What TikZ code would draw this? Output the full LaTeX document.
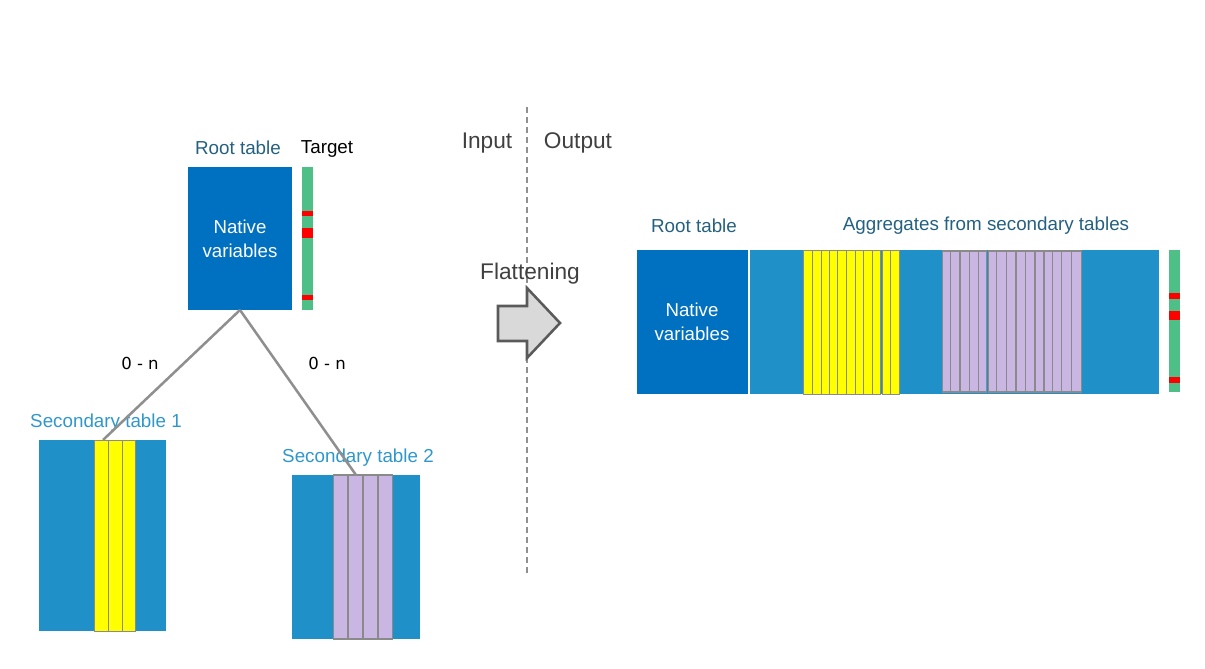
\documentclass[tikz,border=0pt]{standalone}
\usepackage{fontspec}
\setmainfont{Liberation Sans}
\newfontfamily\zfont{DejaVu Sans}
\definecolor{darkblue}{HTML}{0070C0}
\definecolor{lightblue}{HTML}{1F91C8}
\definecolor{tgreen}{HTML}{4FBF88}
\definecolor{tred}{HTML}{FF0000}
\definecolor{tyellow}{HTML}{FFFF00}
\definecolor{tpurple}{HTML}{C9B6E3}
\definecolor{stripgrey}{HTML}{8A8A8A}
\definecolor{linegrey}{HTML}{8F8F8F}
\definecolor{titleblue}{HTML}{24607F}
\definecolor{secblue}{HTML}{2F97CB}
\definecolor{txtgrey}{HTML}{404040}
\definecolor{arrowfill}{HTML}{D9D9D9}
\definecolor{arrowline}{HTML}{5A5A5A}
\tikzset{
  box/.style={draw=none, inner sep=0pt, outer sep=0pt, anchor=north west},
  ystrip/.style={fill=tyellow, draw=stripgrey, line width=0.6pt},
  pstrip/.style={fill=tpurple, draw=stripgrey, line width=0.9pt},
  lbl/.style={font=\fontsize{14.1}{16}\selectfont, inner sep=0pt},
  big/.style={font=\fontsize{17}{20}\selectfont, text=txtgrey, inner sep=0pt},
  native/.style={font=\fontsize{14}{18}\selectfont, text=white, align=center, inner sep=0pt},
  link/.style={draw=linegrey, line width=1.9pt},
  card/.style={font=\zfont\fontsize{12.4}{14}\selectfont, inner sep=0pt}
}
\begin{document}
\begin{tikzpicture}[x=0.75pt,y=-0.75pt]
\useasboundingbox (0,0) rectangle (1205,668);

% ---------- Input side ----------
\node[box, fill=darkblue, minimum width=78pt, minimum height=107.25pt] (root) at (188,167) {};
\node[native] at (240,239) {Native\\variables};
\node[box, fill=tgreen, minimum width=8.25pt, minimum height=107.25pt] (target) at (302,167) {};
\fill[tred] (302,211) rectangle (313,216);
\fill[tred] (302,228) rectangle (313,237.5);
\fill[tred] (302,295) rectangle (313,300);
\node[lbl, text=titleblue] (rootlbl) at (238,148) {Root table};
\node[lbl, text=black] (targetlbl) at (327,149) {Target};

% secondary table 1
\node[box, fill=lightblue, minimum width=95.25pt, minimum height=143.25pt] (sec1) at (39,440) {};
\foreach \a/\b in {94/108,108/122,122/135.3}
  \draw[ystrip] (\a,440) rectangle (\b,631);
\node[lbl, text=secblue] (sec1lbl) at (106,423) {Secondary table 1};

% secondary table 2
\node[box, fill=lightblue, minimum width=96pt, minimum height=123pt] (sec2) at (292,475) {};
\foreach \a/\b in {333.3/348,348/363,363/378,378/392.7}
  \draw[pstrip] (\a,475) rectangle (\b,639);
\node[lbl, text=secblue] (sec2lbl) at (358,458) {Secondary table 2};

% links
\coordinate (s1top) at (103,440);
\coordinate (s2top) at (356,475);
\draw[link] (root.south) -- (s1top);
\draw[link] (root.south) -- (s2top);
\node[card] (c1) at (140,363) {0 - n};
\node[card] (c2) at (327,363) {0 - n};

% ---------- middle ----------
\coordinate (dtop) at (527,107);
\coordinate (dbot) at (527,573);
\draw[draw=linegrey, line width=1.4pt, dash pattern=on 4.5pt off 3pt] (dtop) -- (dbot);
\node[big] (inlbl) at (487,143) {Input};
\node[big] (outlbl) at (578,143) {Output};
\node[big] (flat) at (530,274) {Flattening};
\draw[fill=arrowfill, draw=arrowline, line width=1.9pt, line join=miter]
  (498,306) -- (527,306) -- (527,288) -- (560,323) -- (527,358) -- (527,341) -- (498,341) -- cycle;

% ---------- Output side ----------
\node[box, fill=darkblue, minimum width=83.25pt, minimum height=108pt] (rnative) at (637,250) {};
\node[native] at (692,322) {Native\\variables};
\node[box, fill=lightblue, minimum width=306.75pt, minimum height=108pt] (agg) at (750,250) {};
\foreach \a/\b in {803.3/812.3,812.3/821.3,821.3/829.3,829.3/837.7,837.7/846.3,846.3/855,855/863.3,863.3/872,872/880,882.3/890.7,890.7/899.3}
  \draw[ystrip] (\a,250.5) rectangle (\b,394);
\foreach \a/\b in {942.3/950.7,950.7/960,960/969.3,969.3/978.3,978.3/986.7,988.3/996.7,996.7/1006.7,1006.7/1016,1016/1025.3,1025.3/1035,1035/1044,1044/1052.3,1052.3/1061.7,1061.7/1071.7,1071.7/1081.7}
  \draw[pstrip] (\a,251) rectangle (\b,392);
\node[box, fill=tgreen, minimum width=8.25pt, minimum height=106.5pt] (rtarget) at (1169,250) {};
\fill[tred] (1169,293) rectangle (1180,299);
\fill[tred] (1169,311) rectangle (1180,320);
\fill[tred] (1169,377) rectangle (1180,383);
\node[lbl, text=titleblue] (rrootlbl) at (694,226) {Root table};
\node[lbl, text=titleblue] (agglbl) at (986,226) {Aggregates from secondary tables};
\end{tikzpicture}
\end{document}
